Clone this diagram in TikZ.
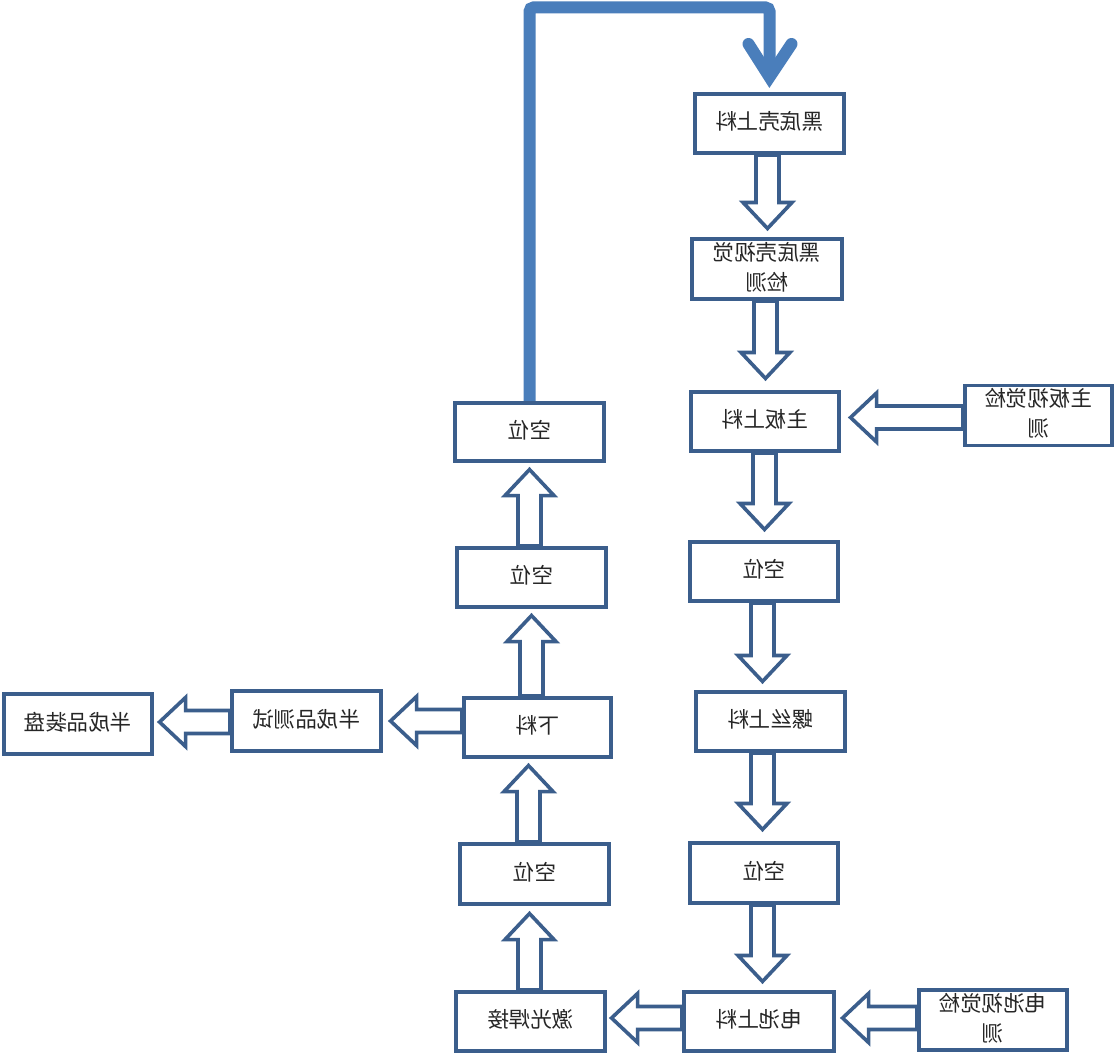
\documentclass[tikz,border=0pt]{standalone}
\usepackage{fontspec}
\newfontfamily\cjk{Noto Sans CJK SC}
\usetikzlibrary{calc}
\definecolor{boxblue}{HTML}{3B5E8C}
\definecolor{lineblue}{HTML}{4A7EBB}
\tikzset{
  box/.style={draw=boxblue, line width=3.6pt, fill=white, inner sep=0pt,
    minimum width=150pt, minimum height=60pt,
    font=\cjk\fontsize{21.5}{30}\selectfont, text=black!85},
  blockarr/.style={draw=boxblue, line width=3.6pt, fill=white, line join=miter},
  bigline/.style={draw=lineblue, line width=12pt},
}
\newcommand\mt[1]{\reflectbox{\begin{tabular}{@{}c@{}}#1\end{tabular}}}
\newcommand\blockarrow[2]{%
  \coordinate (ba-s) at (#1);
  \coordinate (ba-e) at (#2);
  \coordinate (ba-h) at ($(ba-e)!26pt!(ba-s)$);
  \draw[blockarr] ($(ba-s)!11.5pt!90:(ba-e)$) -- ($(ba-h)!11.5pt!90:(ba-e)$)
    -- ($(ba-h)!24.5pt!90:(ba-e)$) -- (ba-e) -- ($(ba-h)!24.5pt!-90:(ba-e)$)
    -- ($(ba-h)!11.5pt!-90:(ba-e)$) -- ($(ba-s)!11.5pt!-90:(ba-e)$) -- cycle;
}
\begin{document}
\begin{tikzpicture}[x=1pt,y=-1pt]
\useasboundingbox[fill=white] (0,0) rectangle (1117,1057);
% right column
\node[box, minimum width=149.5pt, minimum height=59.5pt] (b1) at (769.5,123.5) {\mt{黑底壳上料}};
\node[box, minimum width=150.5pt, minimum height=60.5pt] (b2) at (767,269) {\mt{黑底壳视觉\\检测}};
\node[box, minimum width=148.5pt, minimum height=59.5pt] (b3) at (765,421.5) {\mt{主板上料}};
\node[box, minimum width=147.5pt, minimum height=59.5pt] (v1) at (1038.5,415.5) {\mt{主板视觉检\\测}};
\node[box, minimum width=148.5pt, minimum height=59.5pt] (b4) at (764,571.5) {\mt{空位}};
\node[box, minimum width=149.5pt, minimum height=59.5pt] (b5) at (770.5,721.5) {\mt{螺丝上料}};
\node[box, minimum width=148.5pt, minimum height=60.5pt] (b6) at (764,873) {\mt{空位}};
\node[box, minimum width=150.5pt, minimum height=59.5pt] (b7) at (759,1021.5) {\mt{电池上料}};
\node[box, minimum width=148.5pt, minimum height=60.5pt] (v2) at (993,1020) {\mt{电池视觉检\\测}};
% left column
\node[box, minimum width=149.5pt, minimum height=59.5pt] (c1) at (530.5,1021.5) {\mt{激光焊接}};
\node[box, minimum width=149.5pt, minimum height=60.5pt] (c2) at (534.5,874) {\mt{空位}};
\node[box, minimum width=147.5pt, minimum height=59.5pt] (c3) at (537.5,727.5) {\mt{下料}};
\node[box, minimum width=149.5pt, minimum height=59.5pt] (c4) at (531.5,577.5) {\mt{空位}};
\node[box, minimum width=149.5pt, minimum height=58.5pt] (c5) at (529.5,432) {\mt{空位}};
\node[box, minimum width=149.5pt, minimum height=60.5pt] (d1) at (306.5,721) {\mt{半成品测试}};
\node[box, minimum width=148.5pt, minimum height=60.5pt] (d2) at (78,724) {\mt{半成品装盘}};
% down arrows
\blockarrow{$(b1.south)+(-2,0)$}{$(b2.north)+(0.5,-8.5)$}
\blockarrow{$(b2.south)+(-1.5,0)$}{$(b3.north)+(0.5,-11.5)$}
\blockarrow{$(b3.south)+(-0.5,0)$}{$(b4.north)+(0.5,-10.5)$}
\blockarrow{$(b4.south)+(-1.5,0)$}{$(b5.north)+(-8,-8.5)$}
\blockarrow{$(b5.south)+(-8,0)$}{$(b6.north)+(-1.5,-11.5)$}
\blockarrow{$(b6.south)+(-1.5,0)$}{$(b7.north)+(3.5,-8.5)$}
% up arrows
\blockarrow{$(c1.north)+(-1,0)$}{$(c2.south)+(-5,7.5)$}
\blockarrow{$(c2.north)+(-6,0)$}{$(c3.south)+(-9,6.5)$}
\blockarrow{$(c3.north)+(-6,0)$}{$(c4.south)+(0,6.5)$}
\blockarrow{$(c4.north)+(-2,0)$}{$(c5.south)+(0,6.5)$}
% left arrows
\blockarrow{$(c3.west)+(0,-6.5)$}{$(d1.east)+(7.5,0)$}
\blockarrow{$(d1.west)+(0,1)$}{$(d2.east)+(5.5,-2)$}
\blockarrow{$(b7.west)+(0,-3.5)$}{$(c1.east)+(4.5,-3.5)$}
\blockarrow{$(v2.west)+(0,-2)$}{$(b7.east)+(6.5,-3.5)$}
\blockarrow{$(v1.west)+(0,2)$}{$(b3.east)+(9.5,-4)$}
% thick return line
\coordinate (vt) at ($(b1.north)+(0,-15)$);
\coordinate (tl) at (c5.north |- 0,7.5);
\coordinate (tr) at (vt |- 0,7.5);
\draw[bigline, rounded corners=4pt] (c5.north) -- (tl) -- (tr) -- (vt);
\draw[bigline, line cap=round, line join=miter] ($(vt)+(-21,-33)$) -- (vt) -- ($(vt)+(22,-33)$);
\end{tikzpicture}
\end{document}
